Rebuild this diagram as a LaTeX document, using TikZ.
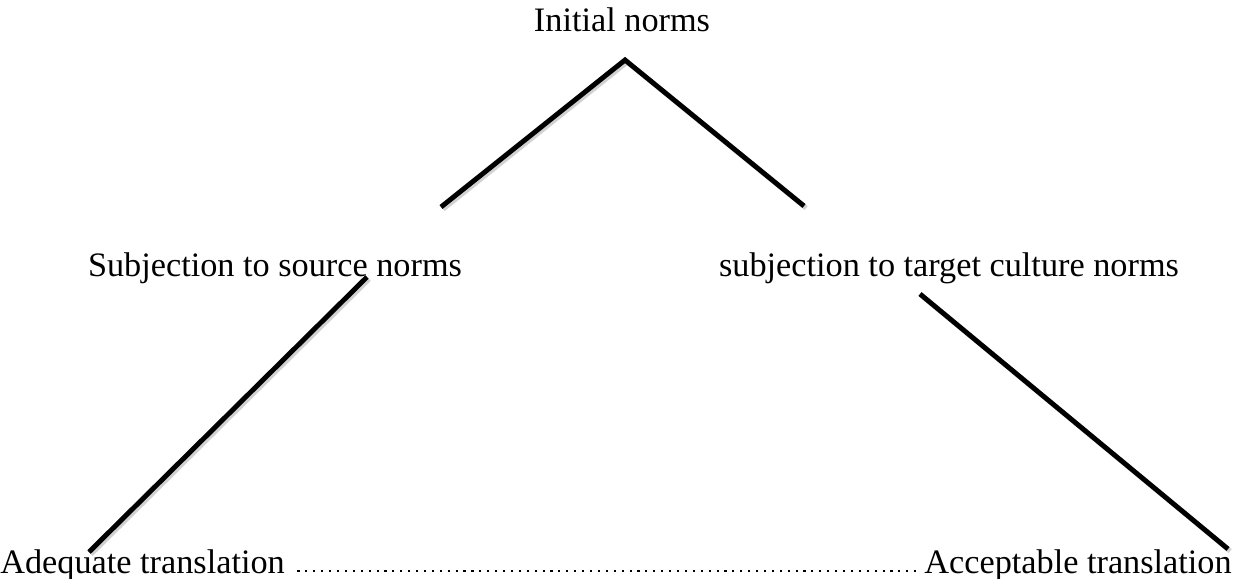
\documentclass[tikz,border=0pt]{standalone}
\usepackage{fontspec}
\setmainfont{Liberation Serif}
\usetikzlibrary{positioning}
\tikzset{
  normtext/.style={inner sep=0pt, font=\fontsize{19.5}{23}\selectfont},
  branch/.style={line width=2.8pt, line cap=butt,
    preaction={draw, black!18, line width=2.8pt, transform canvas={shift={(1.2pt,-1.2pt)}}}},
}

\begin{document}
\begin{tikzpicture}[x=0.02cm, y=-0.02cm]
\useasboundingbox (0, 0) rectangle (1236, 578);
\node[normtext] (init) at (622, 20) {Initial norms};
\node[normtext] (source) at (275, 268) {Subjection to source norms};
\node[normtext] (target) at (949, 268) {subjection to target culture norms};
\node[normtext, anchor=base west] (adequate) at (0, 573) {Adequate translation};
\node[normtext, anchor=base east] (acceptable) at (1232, 573) {Acceptable translation};
% ends of the strokes
\coordinate (apex) at (625, 60);
\coordinate (apexl) at (441, 207);
\coordinate (apexr) at (804, 206);
\coordinate (srctop) at (367, 277);
\coordinate (srcbot) at (89, 552);
\coordinate (tgttop) at (920, 294);
\coordinate (tgtbot) at (1228, 549);
\draw[branch] (apexl) -- (apex) -- (apexr);
\draw[branch] (srctop) -- (srcbot);
\draw[branch] (tgttop) -- (tgtbot);
% dotted leader
\draw[line width=1.2pt, line cap=butt, dash pattern=on 1.2pt off 3.3pt, shorten <=7pt, shorten >=3pt]
  ([yshift=1pt]adequate.base east) -- ([yshift=1pt]acceptable.base west);
\end{tikzpicture}
\end{document}
